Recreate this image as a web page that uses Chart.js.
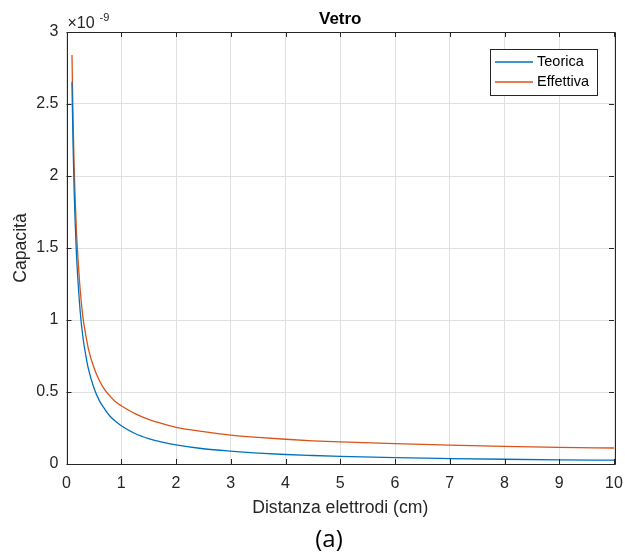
<!doctype html>
<html lang="en">
<head>
  <meta charset="utf-8">
  <title>Vetro</title>
  <style>
    * { margin: 0; padding: 0; }
    body { background: #fff; }
    .chartBox { width: 625px; height: 558px; }
  </style>
</head>
<body>
<div class="chartBox">
  <canvas id="myChart" width="625" height="558"></canvas>
</div>
<script src="https://cdn.jsdelivr.net/npm/chart.js"></script>
<script>
  // distance (cm) and capacity (x1e-9)
  const distTeorica = [0.1, 0.12, 0.14, 0.16, 0.18, 0.2, 0.25, 0.3, 0.35, 0.4, 0.5, 0.6, 0.7, 0.8, 0.9, 1, 1.25, 1.5, 1.75, 2, 2.5, 3, 3.5, 4, 4.5, 5, 6, 7, 8, 9, 10];
  const capTeorica = [2.655, 2.21, 1.89, 1.66, 1.47, 1.33, 1.06, 0.88, 0.76, 0.66, 0.53, 0.44, 0.38, 0.33, 0.295, 0.266, 0.212, 0.177, 0.152, 0.133, 0.106, 0.089, 0.076, 0.066, 0.059, 0.053, 0.044, 0.038, 0.033, 0.029, 0.027];

  const distEffettiva = [0.1, 0.12, 0.14, 0.16, 0.18, 0.2, 0.25, 0.3, 0.35, 0.4, 0.5, 0.6, 0.7, 0.8, 0.9, 1, 1.25, 1.5, 1.75, 2, 2.5, 3, 3.5, 4, 4.5, 5, 6, 7, 8, 9, 10];
  const capEffettiva = [2.84, 2.39, 2.06, 1.83, 1.63, 1.49, 1.21, 1.02, 0.90, 0.80, 0.67, 0.58, 0.515, 0.47, 0.43, 0.405, 0.35, 0.31, 0.28, 0.255, 0.225, 0.201, 0.185, 0.172, 0.161, 0.153, 0.141, 0.131, 0.123, 0.116, 0.111];

  const xTicks = [0, 1, 2, 3, 4, 5, 6, 7, 8, 9, 10];
  const yTicks = [0, 0.5, 1, 1.5, 2, 2.5, 3];

  const axisColor = '#262626';
  const fontFamily = '"Liberation Sans", Arial, sans-serif';

  function toPoints(xs, ys) {
    return xs.map((x, i) => ({ x: x, y: ys[i] }));
  }

  const data = {
    datasets: [{
      label: 'Teorica',
      data: toPoints(distTeorica, capTeorica),
      borderColor: '#0072BD',
      borderWidth: 1.3,
      pointRadius: 0,
      cubicInterpolationMode: 'monotone'
    }, {
      label: 'Effettiva',
      data: toPoints(distEffettiva, capEffettiva),
      borderColor: '#D95319',
      borderWidth: 1.3,
      pointRadius: 0,
      cubicInterpolationMode: 'monotone'
    }]
  };

  // box, inward ticks, title, exponent, legend, caption
  const matlabStyle = {
    id: 'matlabStyle',
    afterDraw(chart) {
      const ctx = chart.ctx;
      const a = chart.chartArea;
      const xs = chart.scales.x, ys = chart.scales.y;
      ctx.save();
      ctx.strokeStyle = axisColor;
      ctx.lineWidth = 1;
      ctx.beginPath();
      ctx.rect(Math.round(a.left) + 0.5, Math.round(a.top) + 0.5, Math.round(a.right - a.left), Math.round(a.bottom - a.top));
      ctx.stroke();
      const tl = 5;
      ctx.beginPath();
      xTicks.forEach(v => {
        const px = Math.round(xs.getPixelForValue(v)) + 0.5;
        ctx.moveTo(px, a.bottom); ctx.lineTo(px, a.bottom - tl);
        ctx.moveTo(px, a.top); ctx.lineTo(px, a.top + tl);
      });
      yTicks.forEach(v => {
        const py = Math.round(ys.getPixelForValue(v)) + 0.5;
        ctx.moveTo(a.left, py); ctx.lineTo(a.left + tl, py);
        ctx.moveTo(a.right, py); ctx.lineTo(a.right - tl, py);
      });
      ctx.stroke();

      // title
      ctx.fillStyle = '#000';
      ctx.font = 'bold 17px ' + fontFamily;
      ctx.textAlign = 'center';
      ctx.textBaseline = 'middle';
      ctx.fillText('Vetro', (a.left + a.right) / 2, 19);

      // exponent
      ctx.fillStyle = axisColor;
      ctx.textAlign = 'left';
      ctx.textBaseline = 'alphabetic';
      ctx.font = '16px ' + fontFamily;
      ctx.fillText('\u00d710', a.left + 1, 28);
      ctx.font = '11px ' + fontFamily;
      ctx.fillText('-9', a.left + 33, 21);

      // legend
      const lx = 490, ly = 49, lw = 107, lh = 46;
      ctx.fillStyle = '#fff';
      ctx.fillRect(lx, ly, lw, lh);
      ctx.strokeStyle = axisColor;
      ctx.strokeRect(lx + 0.5, ly + 0.5, lw, lh);
      chart.data.datasets.forEach((ds, i) => {
        const y = ly + 13 + i * 20;
        ctx.strokeStyle = ds.borderColor;
        ctx.lineWidth = 1.3;
        ctx.beginPath();
        ctx.moveTo(lx + 5, y); ctx.lineTo(lx + 43, y);
        ctx.stroke();
        ctx.fillStyle = '#000';
        ctx.font = '14.5px ' + fontFamily;
        ctx.textBaseline = 'middle';
        ctx.fillText(ds.label, lx + 47, y);
      });

      // caption
      ctx.fillStyle = '#000';
      ctx.font = '24px "Open Sans", sans-serif';
      ctx.textAlign = 'center';
      ctx.textBaseline = 'middle';
      ctx.fillText('(a)', 329, 540);
      ctx.restore();
    }
  };

  const config = {
    type: 'line',
    data,
    options: {
      responsive: false,
      animation: false,
      layout: { padding: { top: 32, right: 11, bottom: 39.5, left: 0 } },
      plugins: {
        legend: { display: false },
        title: { display: false },
        tooltip: { enabled: false }
      },
      scales: {
        x: {
          type: 'linear',
          min: 0,
          max: 10,
          afterFit: s => { s.height = 54.5; s.paddingRight = 0; s.paddingLeft = 0; },
          afterBuildTicks: s => { s.ticks = xTicks.map(v => ({ value: v })); },
          grid: { color: '#e0e0e0', drawTicks: false },
          border: { display: false },
          ticks: { color: axisColor, font: { family: fontFamily, size: 16 }, padding: 10, maxRotation: 0 },
          title: { display: true, text: 'Distanza elettrodi (cm)', color: axisColor, font: { family: fontFamily, size: 17.6 }, padding: 0 }
        },
        y: {
          min: 0,
          max: 3,
          afterFit: s => { s.width = 66.5; },
          afterBuildTicks: s => { s.ticks = yTicks.map(v => ({ value: v })); },
          grid: { color: '#e0e0e0', drawTicks: false },
          border: { display: false },
          ticks: { color: axisColor, font: { family: fontFamily, size: 16 }, padding: 8, callback: v => String(v) },
          title: { display: true, text: 'Capacit\u00e0', color: axisColor, font: { family: fontFamily, size: 17.6 }, padding: { top: 11, bottom: 0 } }
        }
      }
    },
    plugins: [matlabStyle]
  };

  const myChart = new Chart(document.getElementById('myChart'), config);
</script>
</body>
</html>
